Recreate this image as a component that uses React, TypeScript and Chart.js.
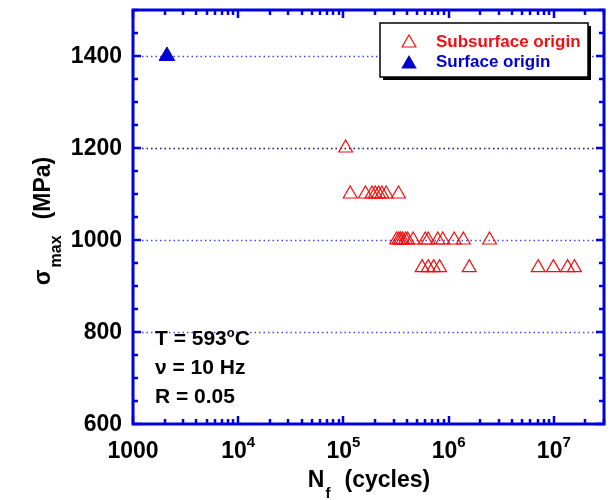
import React, { useEffect, useRef } from "react";
import { Chart, registerables } from "chart.js";

Chart.register(...registerables);

// ---------------- data ----------------
const subsurfaceCycles = [
  1.05e5,
  1.16e5, 1.62e5, 1.87e5, 2.01e5, 2.16e5, 2.32e5, 2.55e5, 3.34e5,
  3.2e5, 3.36e5, 3.5e5, 3.66e5, 3.9e5, 4.08e5, 4.6e5, 6.0e5, 6.4e5, 7.9e5, 8.8e5, 1.13e6, 1.38e6, 2.45e6,
  5.6e5, 6.4e5, 7.2e5, 8.2e5, 1.57e6, 7.1e6, 9.9e6, 1.35e7, 1.57e7,
];
const subsurfaceStress = [
  1200,
  1100, 1100, 1100, 1100, 1100, 1100, 1100, 1100,
  1000, 1000, 1000, 1000, 1000, 1000, 1000, 1000, 1000, 1000, 1000, 1000, 1000, 1000,
  940, 940, 940, 940, 940, 940, 940, 940, 940,
];
const surfaceCycles = [2.1e3];
const surfaceStress = [1400];
const seriesLabels = ["Subsurface origin", "Surface origin"];

const xMin = 1000;
const xMax = 3e7;
const yMin = 600;
const yMax = 1500;
const yTickValues = [600, 800, 1000, 1200, 1400];
const yTickLabels = ["600", "800", "1000", "1200", "1400"];
const yMinorStep = 50;
const xTickValues = [1e3, 1e4, 1e5, 1e6, 1e7];
const xTickBases = ["1000", "10", "10", "10", "10"];
const xTickExps = ["", "4", "5", "6", "7"];
const gridValues = [800, 1000, 1200, 1400];
const conditionLines = [
  [{ t: "T = 593" }, { t: "o", sup: true }, { t: "C" }],
  [{ t: "\u03bd = 10 Hz" }],
  [{ t: "R = 0.05" }],
];

// ---------------- styles ----------------
const FONT = '"Liberation Sans", Arial, Helvetica, sans-serif';
const AXIS_BLUE = "#0000dd";
const RED = "#ee1111";
const BLUE = "#0000cc";

function tri(ctx: CanvasRenderingContext2D, x: number, y: number, r: number) {
  ctx.beginPath();
  ctx.moveTo(x, y - r);
  ctx.lineTo(x + r * 0.8660254, y + r * 0.5);
  ctx.lineTo(x - r * 0.8660254, y + r * 0.5);
  ctx.closePath();
}

const decorPlugin = {
  id: "decor",
  beforeDatasetsDraw(chart: any) {
    const { ctx, chartArea: a, scales } = chart;
    const y = scales.y;
    ctx.save();
    ctx.lineWidth = 1.3;
    ctx.setLineDash([1.5, 3]);
    gridValues.forEach((v) => {
      const py = Math.round(y.getPixelForValue(v)) + 0.5;
      ctx.strokeStyle = v === 1200 ? "#141468" : "#4646e2";
      ctx.beginPath();
      ctx.moveTo(a.left, py);
      ctx.lineTo(a.right, py);
      ctx.stroke();
    });
    ctx.restore();
  },
  afterDatasetsDraw(chart: any) {
    const { ctx, chartArea: a, scales } = chart;
    const x = scales.x;
    const y = scales.y;
    ctx.save();

    // frame
    ctx.strokeStyle = AXIS_BLUE;
    ctx.lineWidth = 3;
    ctx.strokeRect(a.left, a.top, a.right - a.left, a.bottom - a.top);

    // ticks (inward)
    const line = (x1: number, y1: number, x2: number, y2: number) => {
      ctx.beginPath();
      ctx.moveTo(x1, y1);
      ctx.lineTo(x2, y2);
      ctx.stroke();
    };
    ctx.lineWidth = 2.5;
    const majorLen = 8;
    const minorLen = 5;
    for (let v = yMin; v <= yMax; v += yMinorStep) {
      const py = Math.round(y.getPixelForValue(v));
      const len = yTickValues.includes(v) ? majorLen : minorLen;
      line(a.left, py, a.left + len, py);
      line(a.right, py, a.right - len, py);
    }
    for (let e = 3; e <= 7; e++) {
      for (let m = 1; m <= 9; m++) {
        const v = m * Math.pow(10, e);
        if (v < xMin || v > xMax) continue;
        const px = Math.round(x.getPixelForValue(v));
        const len = m === 1 ? majorLen : minorLen;
        line(px, a.bottom, px, a.bottom - len);
        line(px, a.top, px, a.top + len);
      }
    }

    // y tick labels
    ctx.fillStyle = "#000";
    ctx.font = `bold 23px ${FONT}`;
    ctx.textAlign = "right";
    ctx.textBaseline = "alphabetic";
    yTickValues.forEach((v, i) => {
      const py = y.getPixelForValue(v);
      ctx.fillText(yTickLabels[i], a.left - 11, py + 7);
    });

    // x tick labels
    ctx.textAlign = "left";
    xTickValues.forEach((v, i) => {
      const px = x.getPixelForValue(v);
      ctx.font = `bold 23px ${FONT}`;
      const wb = ctx.measureText(xTickBases[i]).width;
      ctx.font = `bold 15px ${FONT}`;
      const we = xTickExps[i] ? ctx.measureText(xTickExps[i]).width : 0;
      const start = px - (wb + we) / 2;
      ctx.font = `bold 23px ${FONT}`;
      ctx.fillText(xTickBases[i], start, a.bottom + 34);
      if (xTickExps[i]) {
        ctx.font = `bold 15px ${FONT}`;
        ctx.fillText(xTickExps[i], start + wb, a.bottom + 23);
      }
    });

    // x title: N_f (cycles)
    {
      const cx = (a.left + a.right) / 2;
      ctx.font = `bold 23px ${FONT}`;
      const wN = ctx.measureText("N").width;
      const wRest = ctx.measureText("(cycles)").width;
      ctx.font = `bold 15px ${FONT}`;
      const wf = ctx.measureText("f").width;
      const gap = 14;
      const total = wN + wf + gap + wRest;
      let sx = cx - total / 2;
      const base = a.bottom + 63;
      ctx.font = `bold 23px ${FONT}`;
      ctx.fillText("N", sx, base);
      sx += wN + 1;
      ctx.font = `bold 15px ${FONT}`;
      ctx.fillText("f", sx, base + 11);
      sx += wf + gap;
      ctx.font = `bold 23px ${FONT}`;
      ctx.fillText("(cycles)", sx, base);
    }

    // y title: sigma_max (MPa)
    {
      ctx.save();
      ctx.translate(50, 0);
      ctx.rotate(-Math.PI / 2);
      ctx.font = `bold 23px ${FONT}`;
      const wS = ctx.measureText("\u03c3").width;
      const wM = ctx.measureText("(MPa)").width;
      ctx.font = `bold 16px ${FONT}`;
      const wSub = ctx.measureText("max").width;
      const gap = 16;
      const total = wS + 2 + wSub + gap + wM;
      const cy = 221;
      let lx = -(cy + total / 2);
      ctx.font = `bold 23px ${FONT}`;
      ctx.fillText("\u03c3", lx, 0);
      lx += wS + 2;
      ctx.font = `bold 16px ${FONT}`;
      ctx.fillText("max", lx, 11);
      lx += wSub + gap;
      ctx.font = `bold 23px ${FONT}`;
      ctx.fillText("(MPa)", lx, 0);
      ctx.restore();
    }

    // conditions text
    conditionLines.forEach((segs, i) => {
      let sx = a.left + 22;
      const base = 345 + i * 29;
      segs.forEach((s: any) => {
        if (s.sup) {
          ctx.font = `bold 13px ${FONT}`;
          ctx.fillText(s.t, sx, base - 8);
        } else {
          ctx.font = `bold 21px ${FONT}`;
          ctx.fillText(s.t, sx, base);
        }
        sx += ctx.measureText(s.t).width;
      });
    });

    // legend box
    {
      const bx = 380, by = 23, bw = 208, bh = 54;
      ctx.fillStyle = "#000";
      ctx.fillRect(bx + 3, by + 3, bw, bh);
      ctx.fillStyle = "#fff";
      ctx.fillRect(bx, by, bw, bh);
      ctx.strokeStyle = "#000";
      ctx.lineWidth = 1.5;
      ctx.strokeRect(bx, by, bw, bh);

      const ds = chart.data.datasets;
      // subsurface
      tri(ctx, 409, 43, 8);
      ctx.strokeStyle = ds[0].borderColor;
      ctx.lineWidth = 1.2;
      ctx.stroke();
      // surface
      tri(ctx, 409, 64, 9);
      ctx.fillStyle = ds[1].backgroundColor;
      ctx.fill();

      ctx.font = `bold 17px ${FONT}`;
      ctx.textAlign = "left";
      ctx.fillStyle = RED;
      ctx.fillText(ds[0].label, 436, 47);
      ctx.fillStyle = BLUE;
      ctx.fillText(ds[1].label, 436, 67);
    }

    ctx.restore();
  },
};

export default function App() {
  const canvasRef = useRef<HTMLCanvasElement | null>(null);

  useEffect(() => {
    if (!canvasRef.current) return;
    const chart = new Chart(canvasRef.current, {
      type: "scatter",
      data: {
        datasets: [
          {
            label: seriesLabels[0],
            data: subsurfaceCycles.map((c, i) => ({ x: c, y: subsurfaceStress[i] })),
            pointStyle: "triangle",
            pointRadius: 8,
            borderColor: RED,
            backgroundColor: "rgba(0,0,0,0)",
            borderWidth: 1.2,
          },
          {
            label: seriesLabels[1],
            data: surfaceCycles.map((c, i) => ({ x: c, y: surfaceStress[i] })),
            pointStyle: "triangle",
            pointRadius: 9,
            borderColor: BLUE,
            backgroundColor: BLUE,
            borderWidth: 1,
          },
        ],
      },
      options: {
        animation: false,
        responsive: false,
        devicePixelRatio: 1,
        layout: { padding: { left: 133, right: 5, top: 8, bottom: 76 } },
        scales: {
          x: { type: "logarithmic", min: xMin, max: xMax, display: false },
          y: { type: "linear", min: yMin, max: yMax, display: false },
        },
        plugins: {
          legend: { display: false },
          tooltip: { enabled: false },
        },
      },
      plugins: [decorPlugin],
    });
    return () => chart.destroy();
  }, []);

  return (
    <div style={{ position: "absolute", left: 0, top: 0, width: 614, height: 500, background: "#fff" }}>
      <canvas ref={canvasRef} width={614} height={500} />
    </div>
  );
}
